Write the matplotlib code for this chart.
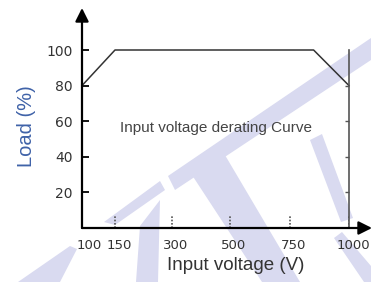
import numpy as np
import matplotlib
matplotlib.use("Agg")
import matplotlib.pyplot as plt
from matplotlib.patches import Polygon
from matplotlib.transforms import ScaledTranslation

# data
volt_ticks = [100, 150, 300, 500, 750, 1000]
curve_volt = [100, 150, 850, 1000]
curve_load = [80, 100, 100, 80]
load_ticks = [20, 40, 60, 80, 100]

W, H = 371, 282
# the voltage axis is not linear in the drawing: pixel spot of each tick
tick_px = np.array([82, 115, 172, 230, 290, 349], dtype=float)


def fwd(v):
    return np.interp(v, volt_ticks, tick_px)


def inv(p):
    return np.interp(p, tick_px, volt_ticks)


plt.rcParams["font.family"] = ["Liberation Sans", "DejaVu Sans"]

fig = plt.figure(figsize=(W / 100, H / 100), dpi=100)

# faint watermark strokes (pixel coords, y down)
wm = [
    [(18, 282), (70, 246), (77, 249), (60, 282)],
    [(104, 222), (160, 181), (165, 190), (115, 225)],
    [(168, 176), (371, 38), (371, 60), (175, 190)],
    [(140, 226), (160, 200), (158, 282), (136, 282)],
    [(190, 172), (222, 150), (300, 282), (262, 282)],
    [(310, 140), (322, 134), (353, 218), (341, 222)],
    [(334, 238), (342, 232), (371, 266), (371, 282), (364, 282)],
]
for poly in wm:
    pts = [(x / W, 1 - y / H) for x, y in poly]
    fig.patches.append(Polygon(pts, closed=True, transform=fig.transFigure,
                               facecolor="#d9daf0", edgecolor="none", zorder=-1))

ax = fig.add_axes([82 / W, 1 - 228 / H, (349 - 82) / W, 178 / H])
ax.patch.set_visible(False)
ax.set_xscale("function", functions=(fwd, inv))
ax.set_xlim(100, 1000)
ax.set_ylim(0, 100)
for s in ax.spines.values():
    s.set_visible(False)

# axes with arrows
ax.annotate("", xy=(0, (228 - 8) / 178), xytext=(0, 0), xycoords="axes fraction",
            arrowprops=dict(arrowstyle="-|>", lw=1.6, color="black", mutation_scale=20,
                            shrinkA=0, shrinkB=0))
ax.annotate("", xy=((372 - 82) / 267, 0), xytext=(0, 0), xycoords="axes fraction",
            arrowprops=dict(arrowstyle="-|>", lw=1.6, color="black", mutation_scale=20,
                            shrinkA=0, shrinkB=0))

# curve
ax.plot(curve_volt, curve_load, color="#333333", lw=1.1, clip_on=False)

# right limit line with small ticks
ax.plot([1000, 1000], [0, 100], color="#555555", lw=1.2, clip_on=False)
ax.plot([1000] * 4, load_ticks[:4], ls="none", marker=0, ms=3, mew=1, color="#555555")

# dotted x ticks
ax.vlines(volt_ticks[1:], 0, 7, colors="#555555", linestyles=(0, (1, 1)), lw=1.2)

ax.set_yticks(load_ticks)
ax.tick_params(axis="y", direction="in", length=5, width=1.3, pad=6.5,
               labelsize=10, labelcolor="#333333")
ax.set_xticks(volt_ticks)
ax.set_xticklabels([str(v) for v in volt_ticks])
ax.tick_params(axis="x", length=0, pad=8, labelsize=9.5, labelcolor="#333333")
ax.minorticks_off()
for lab in ax.get_yticklabels() + ax.get_xticklabels():
    lab.set_family("DejaVu Sans")
for i, lab in enumerate(ax.get_xticklabels()):
    if i == 0:
        lab.set_ha("left")
        lab.set_transform(lab.get_transform() + ScaledTranslation(-5 / 100, 0, fig.dpi_scale_trans))
    else:
        lab.set_transform(lab.get_transform() + ScaledTranslation(4 / 100, 0, fig.dpi_scale_trans))

ax.text(0.5, (228 - 128) / 178, "Input voltage derating Curve", transform=ax.transAxes,
        ha="center", va="center", fontsize=11, color="#444444")

fig.text(236 / W, 1 - 265 / H, "Input voltage (V)", ha="center", va="center",
         fontsize=13.5, color="#333333")
fig.text(27 / W, 1 - 126 / H, "Load (%)", ha="center", va="center", rotation=90,
         fontsize=14.5, color="#3f62a8")

fig.savefig("out.png", dpi=100)
